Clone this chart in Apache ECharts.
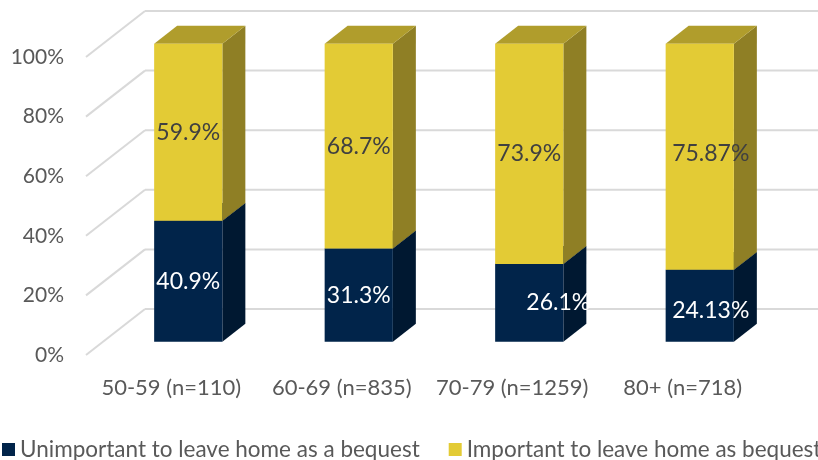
<!DOCTYPE html>
<html>
<head>
<meta charset="utf-8">
<script src="https://cdn.jsdelivr.net/npm/echarts@6/dist/echarts.min.js"></script>
<style>
  html, body { margin: 0; padding: 0; background: #ffffff; }
  #chart { width: 818px; height: 460px; }
</style>
</head>
<body>
<div id="chart"></div>
<script>
// Age groups (with sample sizes) and the share of respondents in each answer group
const categories = ['50-59 (n=110)', '60-69 (n=835)', '70-79 (n=1259)', '80+ (n=718)'];
const unimportantPct = [40.9, 31.3, 26.1, 24.13];
const importantPct = [59.9, 68.7, 73.9, 75.87];
const percentTicks = [0, 20, 40, 60, 80, 100];

const seriesNames = ['Unimportant to leave home as a bequest', 'Important to leave home as bequest'];

const FONT = 'Lato, "Liberation Sans", Arial, sans-serif';
const TEXT_GREY = '#595959';
const GRID_GREY = '#d9d9d9';

// Oblique projection of the depth axis: full floor depth in screen pixels
const DEPTH = [59, -46];
// Bars occupy this slice of the floor depth (0 = front, 1 = back wall)
const BAR_NEAR = 17 / 59;
const BAR_FAR = 40 / 59;
const BAR_WIDTH_RATIO = 0.4;

const palettes = [
  { front: '#01244a', side: '#001831', top: '#001d3d', label: '#ffffff' },
  { front: '#e3cb35', side: '#8f7f25', top: '#b09d2c', label: '#404040' }
];

// Small nudges for a few value labels
const labelShift = {
  '0-2': [29, 0],
  '0-3': [11, 5],
  '1-3': [11, -3]
};

// 100% stacked: each bar is normalised to its own total
function stackTotal(i) {
  return unimportantPct[i] + importantPct[i];
}

function barRenderer(seriesIndex) {
  const pal = palettes[seriesIndex];
  return function (params, api) {
    const i = api.value(0);
    const v = api.value(1);
    const total = stackTotal(i);
    const below = seriesIndex === 0 ? 0 : unimportantPct[i];
    const lo = below / total * 100;
    const hi = (below + v) / total * 100;

    const pLo = api.coord([i, lo]);
    const pHi = api.coord([i, hi]);
    const bw = api.size([1, 0])[0] * BAR_WIDTH_RATIO;

    const nx = DEPTH[0] * BAR_NEAR, ny = DEPTH[1] * BAR_NEAR;
    const dx = DEPTH[0] * (BAR_FAR - BAR_NEAR), dy = DEPTH[1] * (BAR_FAR - BAR_NEAR);

    const x0 = pLo[0] - bw / 2 + nx;
    const x1 = x0 + bw;
    const yB = pLo[1] + ny;
    const yT = pHi[1] + ny;

    const shift = labelShift[seriesIndex + '-' + i] || [0, 0];

    return {
      type: 'group',
      children: [
        {
          type: 'polygon',
          shape: { points: [[x1, yB], [x1 + dx, yB + dy], [x1 + dx, yT + dy], [x1, yT]] },
          style: { fill: pal.side }
        },
        {
          type: 'polygon',
          shape: { points: [[x0, yT], [x1, yT], [x1 + dx, yT + dy], [x0 + dx, yT + dy]] },
          style: { fill: pal.top }
        },
        {
          type: 'rect',
          shape: { x: x0, y: yT, width: bw, height: yB - yT },
          style: { fill: pal.front }
        },
        {
          type: 'text',
          x: (x0 + x1) / 2 + shift[0],
          y: (yT + yB) / 2 + shift[1],
          style: {
            text: v + '%',
            fill: pal.label,
            fontSize: 23,
            fontFamily: FONT,
            align: 'center',
            verticalAlign: 'middle'
          }
        }
      ]
    };
  };
}

// Side wall diagonals and back wall gridlines at each percentage tick
function wallRenderer(params, api) {
  const cs = params.coordSys;
  const v = api.value(1);
  const y = api.coord([0, v])[1];
  const bx = cs.x + DEPTH[0];
  const by = y + DEPTH[1];
  const style = { stroke: GRID_GREY, lineWidth: 2 };
  return {
    type: 'group',
    children: [
      { type: 'line', shape: { x1: cs.x, y1: y, x2: bx, y2: by }, style: style },
      { type: 'line', shape: { x1: bx, y1: by, x2: cs.x + cs.width + DEPTH[0] + 20, y2: by }, style: style }
    ]
  };
}

const chart = echarts.init(document.getElementById('chart'), null, { renderer: 'canvas' });

chart.setOption({
  animation: false,
  backgroundColor: '#ffffff',
  textStyle: { fontFamily: FONT },
  grid: {
    left: 86,
    right: 50,
    top: 57,
    bottom: 105,
    outerBoundsMode: 'none'
  },
  xAxis: {
    type: 'category',
    data: categories,
    axisLine: { show: false },
    axisTick: { show: false },
    axisLabel: { interval: 0, color: TEXT_GREY, fontSize: 22, fontFamily: FONT, margin: 22 }
  },
  yAxis: {
    type: 'value',
    min: 0,
    max: 100,
    interval: 20,
    axisLine: { show: false },
    axisTick: { show: false },
    splitLine: { show: false },
    axisLabel: { formatter: '{value}%', color: TEXT_GREY, fontSize: 21, fontFamily: FONT, margin: 22 }
  },
  legend: {
    left: -3,
    top: 433,
    width: 1000,
    itemWidth: 13,
    itemHeight: 13,
    itemGap: 29,
    icon: 'rect',
    data: seriesNames,
    textStyle: { color: TEXT_GREY, fontSize: 22.5, fontFamily: FONT }
  },
  series: [
    {
      type: 'custom',
      name: 'wall',
      silent: true,
      clip: false,
      z: 1,
      renderItem: wallRenderer,
      encode: { x: 0, y: 1 },
      data: percentTicks.map(function (t) { return [0, t]; })
    },
    {
      type: 'custom',
      name: seriesNames[0],
      clip: false,
      z: 2,
      itemStyle: { color: palettes[0].front },
      renderItem: barRenderer(0),
      encode: { x: 0, y: 1 },
      data: unimportantPct.map(function (v, i) { return [i, v]; })
    },
    {
      type: 'custom',
      name: seriesNames[1],
      clip: false,
      z: 3,
      itemStyle: { color: palettes[1].front },
      renderItem: barRenderer(1),
      encode: { x: 0, y: 1 },
      data: importantPct.map(function (v, i) { return [i, v]; })
    }
  ]
});
</script>
</body>
</html>
